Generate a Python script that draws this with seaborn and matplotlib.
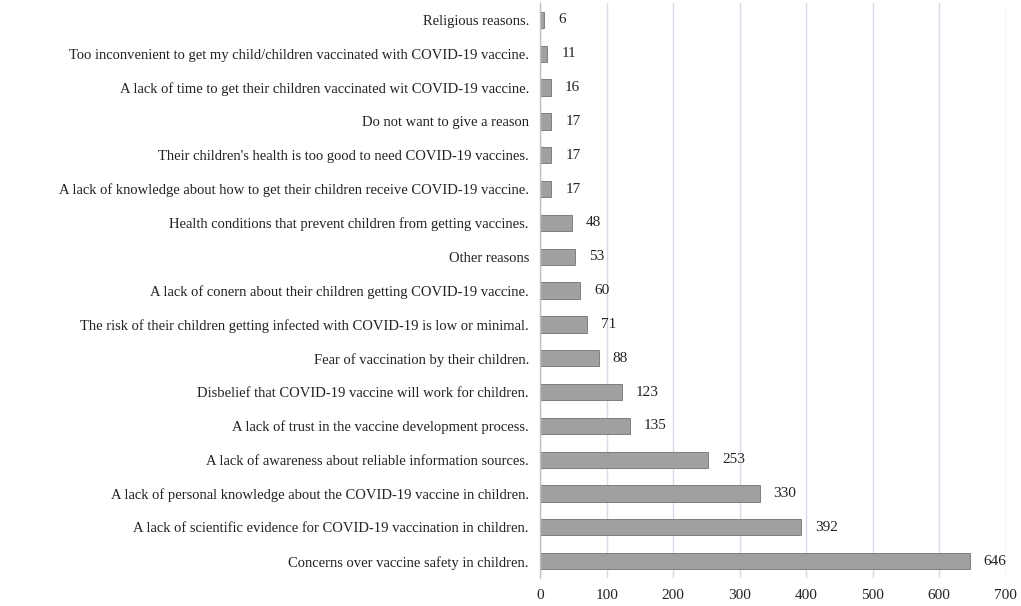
import matplotlib
matplotlib.use("Agg")
import matplotlib.pyplot as plt
import seaborn as sns
import pandas as pd

reasons = [
    "Religious reasons.",
    "Too inconvenient to get my child/children vaccinated with COVID-19 vaccine.",
    "A lack of time to get their children vaccinated wit COVID-19 vaccine.",
    "Do not want to give a reason",
    "Their children's health is too good to need COVID-19 vaccines.",
    "A lack of knowledge about how to get their children receive COVID-19 vaccine.",
    "Health conditions that prevent children from getting vaccines.",
    "Other reasons",
    "A lack of conern about their children getting COVID-19 vaccine.",
    "The risk of their children getting infected with COVID-19 is low or minimal.",
    "Fear of vaccination by their children.",
    "Disbelief that COVID-19 vaccine will work for children.",
    "A lack of trust in the vaccine development process.",
    "A lack of awareness about reliable information sources.",
    "A lack of personal knowledge about the COVID-19 vaccine in children.",
    "A lack of scientific evidence for COVID-19 vaccination in children.",
    "Concerns over vaccine safety in children.",
]
counts = [6, 11, 16, 17, 17, 17, 48, 53, 60, 71, 88, 123, 135, 253, 330, 392, 646]
x_ticks = [0, 100, 200, 300, 400, 500, 600, 700]

df = pd.DataFrame({"reason": reasons, "count": counts})

sns.set_style("white")
plt.rcParams["font.family"] = ["Liberation Serif", "DejaVu Serif"]

fig = plt.figure(figsize=(10.21, 6.06), dpi=100)
ax = fig.add_axes([0.529, 0.046, 0.456, 0.949])

sns.barplot(data=df, y="reason", x="count", color="#a0a0a0", edgecolor="#7f7f7f",
            linewidth=0.7, width=0.48, saturation=1, ax=ax)

ax.bar_label(ax.containers[0], padding=10, fontsize=11, color="#222222")

ax.set_xlim(0, 700)
ax.set_xticks(x_ticks)
ax.set_xlabel("")
ax.set_ylabel("")
ax.xaxis.grid(True, color="#d6dbe6", linewidth=1.0)
ax.set_axisbelow(True)
for side in ["top", "right", "bottom"]:
    ax.spines[side].set_visible(False)
ax.spines["left"].set_color("#bfbfbf")
ax.spines["left"].set_linewidth(1.0)
ax.tick_params(axis="y", length=0, labelsize=10.5, colors="#222222", pad=8)
ax.tick_params(axis="x", length=0, labelsize=11, colors="#222222", pad=8)

fig.savefig("out.png", dpi=100, facecolor="white")
